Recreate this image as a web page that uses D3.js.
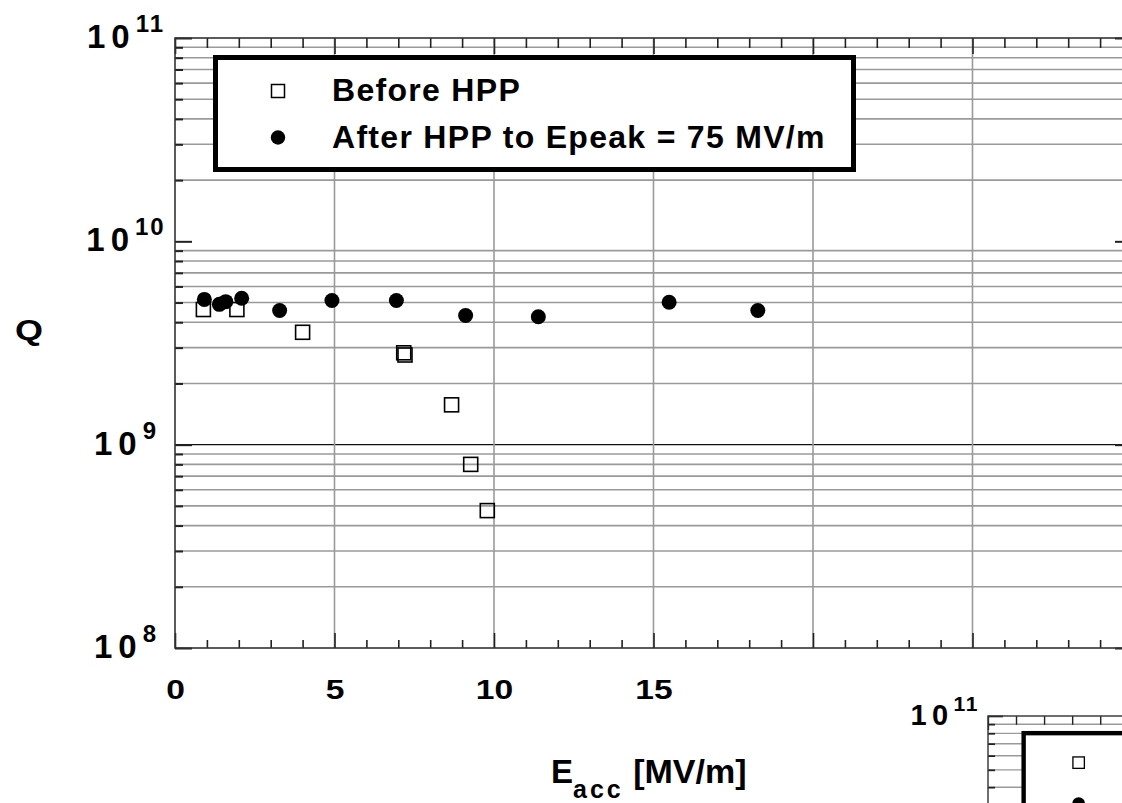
<!DOCTYPE html>
<html>
<head>
<meta charset="utf-8">
<script src="https://cdn.jsdelivr.net/npm/d3@7"></script>
<style>
  html, body { margin: 0; padding: 0; background: #fff; }
  svg { display: block; }
  text { font-family: "Liberation Sans", Arial, Helvetica, sans-serif; font-weight: bold; fill: #000; }
</style>
</head>
<body>
<svg id="chart" width="1122" height="803"></svg>
<script>
// ---- data ----
const xTickLabels = [0, 5, 10, 15];
const yTickExponents = [8, 9, 10, 11];
const legendLabels = ["Before HPP", "After HPP to Epeak = 75 MV/m"];
const xTitle = "E";
const xTitleSub = "acc";
const xTitleUnit = " [MV/m]";
const yTitle = "Q";

// Before HPP (open squares)
const beforeE = [0.89, 1.94, 4.0, 7.17, 7.21, 8.67, 9.27, 9.79];
const beforeQ = [4.62e9, 4.62e9, 3.57e9, 2.83e9, 2.76e9, 1.57e9, 8.0e8, 4.74e8];
// After HPP to Epeak = 75 MV/m (filled circles)
const afterE = [0.92, 1.39, 1.59, 2.09, 3.28, 4.92, 6.94, 9.11, 11.39, 15.49, 18.27];
const afterQ = [5.18e9, 4.9e9, 5.05e9, 5.25e9, 4.57e9, 5.12e9, 5.12e9, 4.32e9, 4.26e9, 5.02e9, 4.57e9];

// ---- layout ----
const W = 957, H = 610;
const svg = d3.select("#chart");
svg.append("rect").attr("width", 1122).attr("height", 803).attr("fill", "#fff");

function drawChart(g) {
  const x = d3.scaleLinear().domain([0, 30]).range([0, W]);
  const y = d3.scaleLog().domain([1e8, 1e11]).range([H, 0]);

  const minorY = [];
  [8, 9, 10].forEach(n => { for (let k = 2; k <= 9; k++) minorY.push(k * Math.pow(10, n)); });
  const majorY = yTickExponents.map(e => Math.pow(10, e));
  const allX = d3.range(0, 31, 1);
  const majorX = allX.filter(v => v % 5 === 0);
  const minorX = allX.filter(v => v % 5 !== 0);
  const gridX = majorX.filter(v => v > 0 && v < 30);

  // horizontal gridlines (minor decades, gray)
  g.append("g").selectAll("line").data(minorY).join("line")
    .attr("x1", 0).attr("x2", W)
    .attr("y1", d => y(d)).attr("y2", d => y(d))
    .attr("stroke", "#9a9a9a").attr("stroke-width", 1.6);
  // dark line at 1e9
  g.append("line").attr("x1", 0).attr("x2", W)
    .attr("y1", y(1e9)).attr("y2", y(1e9))
    .attr("stroke", "#111").attr("stroke-width", 1.2);
  // vertical gridlines
  g.append("g").selectAll("line").data(gridX).join("line")
    .attr("x1", d => x(d)).attr("x2", d => x(d))
    .attr("y1", 0).attr("y2", H)
    .attr("stroke", "#9a9a9a").attr("stroke-width", 1.6);

  // tick marks via d3 axes
  function ticks(axis, tr) {
    const a = g.append("g").attr("transform", tr).call(axis);
    a.select(".domain").remove();
    a.selectAll(".tick line").attr("stroke", "#222").attr("stroke-width", 2);
    a.selectAll(".tick text").remove();
    return a;
  }
  ticks(d3.axisRight(y).tickValues(minorY).tickSize(8).tickFormat(""), "translate(0,0)");
  ticks(d3.axisRight(y).tickValues(majorY).tickSize(17).tickFormat(""), "translate(0,0)");
  ticks(d3.axisLeft(y).tickValues(minorY).tickSize(8).tickFormat(""), `translate(${W},0)`);
  ticks(d3.axisLeft(y).tickValues(majorY).tickSize(17).tickFormat(""), `translate(${W},0)`);
  ticks(d3.axisBottom(x).tickValues(minorX).tickSize(10).tickFormat(""), "translate(0,0)")
    .selectAll(".tick line").attr("stroke-width", 1.6);
  ticks(d3.axisBottom(x).tickValues(majorX).tickSize(16).tickFormat(""), "translate(0,0)")
    .selectAll(".tick line").attr("stroke-width", 1.6);
  ticks(d3.axisTop(x).tickValues(minorX).tickSize(8).tickFormat(""), `translate(0,${H})`)
    .selectAll(".tick line").attr("stroke-width", 1.6);
  ticks(d3.axisTop(x).tickValues(majorX).tickSize(15).tickFormat(""), `translate(0,${H})`)
    .selectAll(".tick line").attr("stroke-width", 1.6);

  // frame
  g.append("rect").attr("x", 0).attr("y", 0).attr("width", W).attr("height", H)
    .attr("fill", "none").attr("stroke", "#333").attr("stroke-width", 1.6);

  // x tick labels
  const xl = g.append("g").attr("transform", `translate(0,${H})`)
    .call(d3.axisBottom(x).tickValues(xTickLabels).tickSize(0).tickFormat(d3.format("d")));
  xl.select(".domain").remove();
  xl.selectAll(".tick text")
    .attr("y", 0).attr("dy", 0)
    .attr("transform", "translate(0,51) scale(1.2,1)")
    .style("font-size", "28px").style("font-family", "'Liberation Sans', Arial, sans-serif")
    .style("font-weight", "bold").attr("fill", "#000");

  // y tick labels 10^n
  const yl = g.append("g").selectAll("text").data(yTickExponents).join("text")
    .attr("x", -49).attr("y", d => y(Math.pow(10, d)) + 10)
    .attr("text-anchor", "middle");
  yl.append("tspan").text("10").style("font-size", "33px").style("letter-spacing", "6px");
  yl.append("tspan").text(d => d).attr("dy", -16).style("font-size", "24px").style("letter-spacing", "2px");

  // axis titles
  g.append("text").text(yTitle)
    .attr("text-anchor", "middle")
    .attr("transform", "translate(-146,302) scale(1.2,1)")
    .style("font-size", "30px");
  const xt = g.append("text").attr("x", 376).attr("y", 745);
  xt.append("tspan").text(xTitle).style("font-size", "33px");
  xt.append("tspan").text(xTitleSub).attr("dy", 15).style("font-size", "25px").style("letter-spacing", "3px");
  xt.append("tspan").text(xTitleUnit).attr("dy", -15).style("font-size", "34px");

  // data: before (open squares)
  const s = 14;
  const before = beforeE.map((e, i) => ({ e, q: beforeQ[i] }));
  g.append("g").selectAll("rect").data(before).join("rect")
    .attr("x", d => x(d.e) - s / 2).attr("y", d => y(d.q) - s / 2)
    .attr("width", s).attr("height", s)
    .attr("fill", "none").attr("stroke", "#000").attr("stroke-width", 1.6);
  // data: after (filled circles)
  const after = afterE.map((e, i) => ({ e, q: afterQ[i] }));
  g.append("g").selectAll("circle").data(after).join("circle")
    .attr("cx", d => x(d.e)).attr("cy", d => y(d.q)).attr("r", 7.5)
    .attr("fill", "#000");

  // legend
  const lg = g.append("g");
  lg.append("rect").attr("x", 40.5).attr("y", 19.5).attr("width", 638).attr("height", 112)
    .attr("fill", "#fff").attr("stroke", "#000").attr("stroke-width", 5);
  lg.append("rect").attr("x", 103 - 6.5).attr("y", 53 - 6.5).attr("width", 13).attr("height", 13)
    .attr("fill", "none").attr("stroke", "#000").attr("stroke-width", 1.5);
  lg.append("circle").attr("cx", 103).attr("cy", 99.5).attr("r", 7.2).attr("fill", "#000");
  lg.selectAll("text.leg").data(legendLabels).join("text").attr("class", "leg")
    .attr("x", 157).attr("y", (d, i) => 62.5 + i * 47)
    .text(d => d)
    .style("font-size", "32px").style("letter-spacing", "1.3px");
}

drawChart(svg.append("g").attr("transform", "translate(175,38)"));
drawChart(svg.append("g").attr("transform", "translate(988,716) scale(0.88)"));
</script>
</body>
</html>
